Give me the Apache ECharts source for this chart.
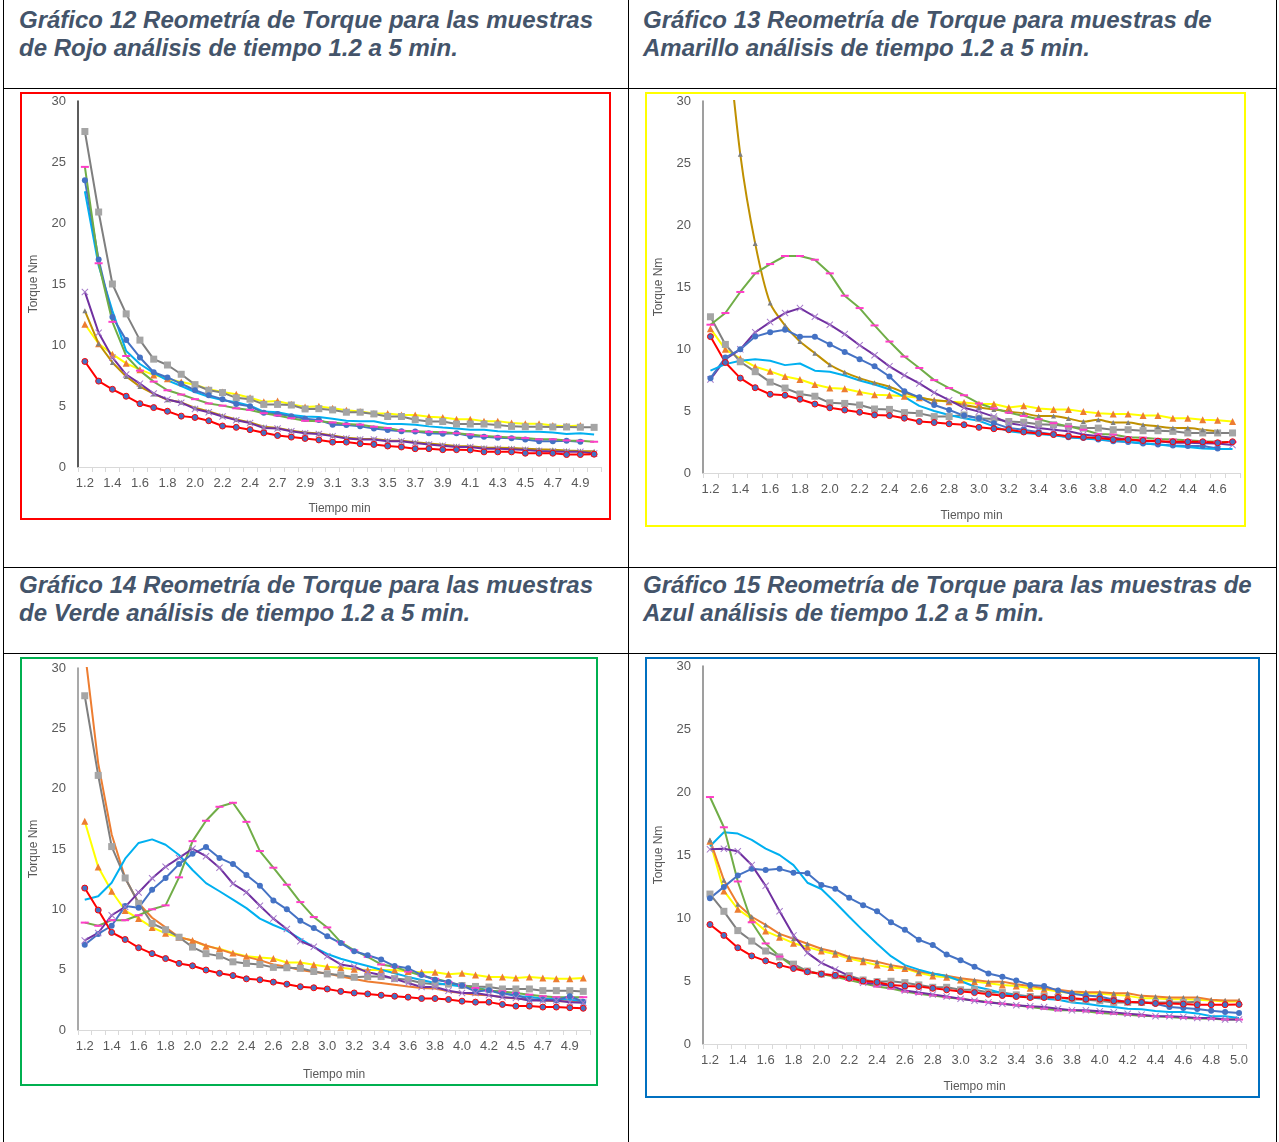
<!DOCTYPE html>
<html>
<head>
<meta charset="utf-8">
<script src="https://cdn.jsdelivr.net/npm/echarts@6/dist/echarts.min.js"></script>
<style>
  body { margin: 0; background: #fff; width: 1279px; height: 1142px; position: relative; overflow: hidden; font-family: "Liberation Sans", Arial, sans-serif; }
  .ln { position: absolute; background: #000; }
  .tit { position: absolute; font-weight: bold; font-style: italic; font-size: 24px; line-height: 28px; color: #44546A; white-space: nowrap; }
  .chart { position: absolute; }
  .marco { position: absolute; box-sizing: border-box; border: 2px solid; pointer-events: none; }
</style>
</head>
<body>
<div class="ln" style="left:3px;top:0;width:1px;height:1142px"></div>
<div class="ln" style="left:628px;top:0;width:1px;height:1142px"></div>
<div class="ln" style="left:1276px;top:0;width:1px;height:1142px"></div>
<div class="ln" style="left:3px;top:88px;width:1274px;height:1px"></div>
<div class="ln" style="left:3px;top:567px;width:1274px;height:1px"></div>
<div class="ln" style="left:3px;top:653px;width:1274px;height:1px"></div>

<div class="tit" style="left:19px;top:6px">Gráfico 12 Reometría de Torque para las muestras<br>de Rojo análisis de tiempo 1.2 a 5 min.</div>
<div class="tit" style="left:643px;top:6px">Gráfico 13 Reometría de Torque para muestras de<br>Amarillo análisis de tiempo 1.2 a 5 min.</div>
<div class="tit" style="left:19px;top:571px">Gráfico 14 Reometría de Torque para las muestras<br>de Verde análisis de tiempo 1.2 a 5 min.</div>
<div class="tit" style="left:643px;top:571px">Gráfico 15 Reometría de Torque para las muestras de<br>Azul análisis de tiempo 1.2 a 5 min.</div>

<div id="g12" class="chart" style="left:20px;top:92px;width:591px;height:428px"></div>
<div id="g13" class="chart" style="left:645px;top:92px;width:601px;height:435px"></div>
<div id="g14" class="chart" style="left:20px;top:657px;width:578px;height:429px"></div>
<div id="g15" class="chart" style="left:645px;top:657px;width:615px;height:441px"></div>
<div class="marco" style="left:20px;top:92px;width:591px;height:428px;border-color:#FF0000"></div>
<div class="marco" style="left:645px;top:92px;width:601px;height:435px;border-color:#FFFF00"></div>
<div class="marco" style="left:20px;top:657px;width:578px;height:429px;border-color:#00B050"></div>
<div class="marco" style="left:645px;top:657px;width:615px;height:441px;border-color:#0070C0"></div>

<script>
// categorías (tiempo min)
const tiempos12 = ['1.2','1.3','1.4','1.5','1.6','1.7','1.8','1.9','2.0','2.1','2.2','2.3','2.4','2.5','2.7','2.8','2.9','3.0','3.1','3.2','3.3','3.4','3.5','3.6','3.7','3.8','3.9','4.0','4.1','4.2','4.3','4.4','4.5','4.6','4.7','4.8','4.9','5.0'];
const tiempos13 = ['1.2','1.3','1.4','1.5','1.6','1.7','1.8','1.9','2.0','2.1','2.2','2.3','2.4','2.5','2.6','2.7','2.8','2.9','3.0','3.1','3.2','3.3','3.4','3.5','3.6','3.7','3.8','3.9','4.0','4.1','4.2','4.3','4.4','4.5','4.6','4.7'];
const tiempos14 = ['1.2','1.3','1.4','1.5','1.6','1.7','1.8','1.9','2.0','2.1','2.2','2.3','2.4','2.5','2.6','2.7','2.8','2.9','3.0','3.1','3.2','3.3','3.4','3.5','3.6','3.7','3.8','3.9','4.0','4.1','4.2','4.4','4.5','4.6','4.7','4.8','4.9','5.0'];
const tiempos15 = ['1.2','1.3','1.4','1.5','1.6','1.7','1.8','1.9','2.0','2.1','2.2','2.3','2.4','2.5','2.6','2.7','2.8','2.9','3.0','3.1','3.2','3.3','3.4','3.5','3.6','3.7','3.8','3.9','4.0','4.1','4.2','4.3','4.4','4.5','4.6','4.7','4.8','4.9','5.0'];
const marcasY = [0, 5, 10, 15, 20, 25, 30];

// Gráfico 12 - Rojo
const amarillo12 = [11.7,10.1,9.25,8.5,7.98,7.55,7.23,6.96,6.75,6.37,6.15,5.97,5.67,5.35,5.4,5.14,4.92,4.97,4.81,4.65,4.54,4.38,4.38,4.27,4.27,4.11,4.05,3.92,3.92,3.76,3.76,3.6,3.55,3.55,3.41,3.35,3.41,null];
const gris12 = [27.5,20.9,15.0,12.55,10.4,8.84,8.36,7.6,6.75,6.29,6.1,5.67,5.56,5.13,5.13,5.08,4.76,4.78,4.68,4.49,4.49,4.35,4.14,4.14,3.87,3.73,3.73,3.52,3.52,3.52,3.45,3.33,3.3,3.3,3.28,3.28,3.26,3.25];
const celeste12 = [22.6,16.5,12.8,9.5,8.44,7.72,7.1,6.64,6.15,5.75,5.48,5.3,5.03,4.54,4.49,4.27,4.14,4.1,3.95,3.79,3.75,3.75,3.52,3.52,3.47,3.33,3.23,3.15,3.06,3.06,2.93,2.88,2.88,2.88,2.82,2.71,2.76,2.66];
const azul12 = [23.5,17.0,12.3,10.4,8.98,7.77,7.34,6.83,6.29,5.89,5.56,5.16,4.97,4.44,4.35,4.17,3.95,3.85,3.47,3.45,3.33,3.15,3.04,2.93,2.9,2.77,2.72,2.77,2.53,2.48,2.39,2.35,2.26,2.12,2.12,2.15,2.07,null];
const verde12 = [24.6,16.7,11.9,9.1,7.9,7.0,6.29,5.94,5.56,5.21,5.03,4.81,4.68,4.41,4.22,4.0,3.79,3.76,3.65,3.52,3.47,3.3,3.2,2.98,2.93,2.88,2.85,2.77,2.66,2.55,2.48,2.42,2.37,2.27,2.27,2.18,2.15,2.07];
const oro12 = [12.8,10.1,8.57,7.42,6.59,5.99,5.51,5.3,4.85,4.55,4.2,3.9,3.65,3.3,3.2,2.98,2.82,2.75,2.58,2.4,2.32,2.3,2.18,2.15,2.02,1.92,1.82,1.72,1.7,1.6,1.58,1.55,1.5,1.45,1.42,1.35,1.32,1.3];
const morado12 = [14.35,11.0,8.98,7.58,6.83,6.02,5.54,5.27,4.76,4.49,4.14,3.84,3.6,3.2,3.15,2.93,2.77,2.71,2.53,2.34,2.26,2.26,2.12,2.12,1.96,1.85,1.75,1.64,1.64,1.5,1.5,1.46,1.4,1.32,1.28,1.24,1.24,1.1];
const rojo12 = [8.65,7.04,6.37,5.8,5.19,4.87,4.57,4.17,4.06,3.79,3.36,3.25,3.06,2.8,2.58,2.45,2.34,2.22,2.04,2.04,1.91,1.85,1.72,1.64,1.5,1.5,1.42,1.42,1.4,1.24,1.24,1.24,1.13,1.13,1.13,1.02,1.02,1.05];

// Gráfico 13 - Amarillo
const amarillo13 = [11.64,9.97,9.23,8.57,8.2,7.78,7.54,7.14,6.85,6.8,6.53,6.32,6.27,6.19,6.06,5.87,5.74,5.69,5.56,5.56,5.29,5.42,5.21,5.13,5.13,4.95,4.81,4.76,4.76,4.63,4.63,4.42,4.42,4.3,4.26,4.15];
const gris13 = [12.6,10.37,8.97,8.17,7.33,6.85,6.37,6.19,5.66,5.61,5.48,5.16,5.13,4.87,4.81,4.55,4.55,4.68,4.42,4.36,4.15,4.1,3.94,3.89,3.76,3.62,3.62,3.49,3.49,3.41,3.41,3.36,3.23,3.23,3.23,3.23];
const oro13 = [null,37,25.7,18.5,13.7,11.9,10.6,9.66,8.73,8.12,7.65,7.28,6.96,6.48,6.11,5.87,5.79,5.48,5.29,5.13,4.95,4.81,4.6,4.6,4.39,4.15,4.29,4.07,4.07,3.89,3.76,3.62,3.62,3.49,3.36,null];
const verde13 = [11.96,12.9,14.6,16.1,16.85,17.5,17.5,17.2,16.1,14.3,13.3,11.9,10.6,9.39,8.47,7.49,6.85,6.27,5.61,5.21,4.87,4.6,4.34,4.02,3.76,3.49,3.15,3.1,2.88,2.85,2.75,2.7,2.65,2.57,2.52,2.5];
const morado13 = [7.54,9.18,9.97,11.35,12.17,12.9,13.3,12.6,11.96,11.2,10.3,9.5,8.6,7.88,7.22,6.48,5.87,5.26,4.95,4.55,4.02,3.84,3.62,3.49,3.36,3.1,2.96,2.85,2.7,2.57,2.57,2.44,2.44,2.4,2.38,2.25];
const azul13 = [7.65,9.31,9.97,11.0,11.35,11.56,10.98,10.98,10.37,9.76,9.18,8.6,7.78,6.6,6.1,5.48,5.08,4.63,4.42,4.02,3.62,3.49,3.28,3.1,2.88,2.83,2.7,2.57,2.49,2.38,2.3,2.22,2.17,2.17,1.98,null];
const celeste13 = [8.25,8.78,9.05,9.18,9.05,8.7,8.83,8.25,8.17,7.86,7.46,7.14,6.75,6.14,5.41,5.0,4.68,4.42,4.21,3.76,3.36,3.23,3.15,3.05,2.88,2.78,2.7,2.62,2.52,2.38,2.3,2.17,2.09,1.98,1.93,1.93];
const rojo13 = [11.0,8.91,7.65,6.88,6.35,6.27,5.95,5.56,5.26,5.08,4.9,4.68,4.63,4.42,4.15,4.07,3.97,3.89,3.68,3.57,3.49,3.31,3.18,3.1,2.96,2.88,2.83,2.7,2.7,2.62,2.57,2.52,2.52,2.52,2.44,2.52];

// Gráfico 14 - Verde
const amarillo14 = [17.3,13.5,11.5,9.9,9.23,8.5,8.01,7.69,7.42,6.95,6.74,6.38,6.11,6.0,5.92,5.6,5.6,5.4,5.24,5.16,5.03,4.97,4.97,4.97,4.84,4.78,4.78,4.62,4.7,4.56,4.4,4.4,4.3,4.4,4.3,4.24,4.24,4.3];
const naranja14 = [31.5,22.1,16.2,12.6,10.5,9.3,8.5,7.69,7.42,7.0,6.68,6.33,6.06,5.79,5.43,5.24,4.97,4.8,4.7,4.43,4.23,4.02,3.89,3.75,3.61,3.48,3.43,3.2,3.07,2.93,2.88,2.71,2.6,2.53,2.44,2.39,2.39,2.34];
const gris14 = [27.7,21.1,15.2,12.6,10.5,8.83,8.31,7.69,6.87,6.33,6.14,5.65,5.52,5.43,5.19,5.16,5.11,4.85,4.65,4.56,4.37,4.43,4.43,4.26,4.16,3.89,3.8,3.8,3.69,3.61,3.56,3.4,3.4,3.4,3.26,3.26,3.26,3.2];
const celeste14 = [10.8,11.08,12.2,14.2,15.5,15.8,15.35,14.5,13.26,12.17,11.5,10.8,10.1,9.23,8.7,8.23,7.55,6.87,6.3,5.9,5.6,5.3,5.0,4.7,4.4,4.15,3.9,3.75,3.6,3.5,3.3,3.1,2.8,2.75,2.6,2.6,2.5,2.4];
const verde14 = [8.9,8.64,9.1,9.1,9.51,10.0,10.33,12.65,15.65,17.34,18.5,18.83,17.25,14.83,13.45,12.04,10.6,9.36,8.5,7.28,6.6,6.06,5.43,5.24,4.84,4.51,4.24,3.97,3.69,3.48,3.26,3.2,3.07,2.93,2.8,2.72,2.72,2.72];
const azul14 = [7.06,7.96,8.64,10.27,10.13,11.63,12.6,13.75,14.6,15.16,14.26,13.75,12.85,11.95,10.74,10.0,9.05,8.45,7.77,7.2,6.52,6.19,5.84,5.3,5.11,4.56,4.16,3.97,3.69,3.2,3.3,2.99,2.93,2.53,2.53,2.44,2.8,2.34];
const morado14 = [7.42,8.04,9.51,10.2,11.4,12.57,13.53,14.26,15.02,14.4,13.45,12.12,11.42,10.3,9.23,8.37,7.36,6.9,6.11,5.43,5.24,4.78,4.56,4.24,3.89,3.56,3.56,3.26,3.07,3.07,2.88,2.72,2.66,2.44,2.44,2.44,2.3,2.26];
const rojo14 = [11.76,9.94,8.09,7.5,6.82,6.33,5.92,5.52,5.32,4.97,4.7,4.51,4.24,4.16,3.97,3.8,3.59,3.5,3.4,3.2,3.07,2.99,2.88,2.8,2.72,2.61,2.61,2.53,2.39,2.31,2.31,2.12,1.98,1.98,1.9,1.9,1.85,1.8];

// Gráfico 15 - Azul
const amarillo15 = [16.1,12.15,10.7,9.92,8.96,8.48,8.0,7.7,7.38,7.12,6.78,6.52,6.26,6.07,5.99,5.66,5.4,5.29,5.08,4.95,4.82,4.69,4.61,4.42,4.35,4.16,4.03,4.03,3.98,3.9,3.82,3.64,3.64,3.56,3.56,3.51,3.46,3.38,3.38];
const naranja15 = [16.2,13.0,11.1,10.1,9.45,8.74,8.35,7.96,7.56,7.3,6.91,6.73,6.52,6.26,6.07,5.73,5.6,5.42,5.21,5.08,4.95,4.95,4.74,4.61,4.42,4.3,4.16,4.11,4.11,4.03,4.03,3.82,3.77,3.69,3.69,3.69,3.51,3.46,3.46];
const gris15 = [11.9,10.53,9.0,8.17,7.38,6.91,6.34,5.79,5.55,5.42,5.42,5.08,4.95,4.98,4.87,4.69,4.5,4.5,4.3,4.3,4.08,4.08,3.9,3.77,3.77,3.69,3.56,3.51,3.43,3.3,3.3,3.3,3.3,3.3,3.3,3.35,null,null,null];
const celeste15 = [15.7,16.8,16.7,16.2,15.5,15.0,14.2,12.8,12.3,11.23,10.1,9.0,7.96,6.97,6.26,5.9,5.6,5.4,5.0,4.56,4.32,4.03,3.85,3.69,3.59,3.51,3.3,3.2,3.04,2.93,2.8,2.75,2.62,2.54,2.54,2.43,2.2,2.2,2.07];
const azul15 = [11.57,12.47,13.38,13.9,13.8,13.9,13.59,13.55,12.62,12.33,11.6,11.02,10.53,9.66,9.06,8.27,7.85,7.1,6.65,6.13,5.6,5.34,5.03,4.69,4.61,4.24,3.98,3.85,3.77,3.51,3.33,3.33,3.2,2.93,2.85,2.77,2.64,2.54,2.46];
const verde15 = [19.6,17.2,12.9,9.66,7.98,6.94,6.13,5.73,5.55,5.34,5.08,4.82,4.56,4.4,4.16,3.98,3.85,3.7,3.6,3.46,3.33,3.2,3.07,2.93,2.8,2.67,2.67,2.59,2.46,2.4,2.33,2.25,2.2,2.15,2.07,2.02,2.0,1.94,1.94];
const morado15 = [15.45,15.5,15.3,14.2,12.55,10.53,8.62,7.23,6.44,5.92,5.4,4.87,4.77,4.61,4.24,4.08,3.92,3.77,3.59,3.43,3.3,3.2,3.07,3.0,2.93,2.8,2.67,2.67,2.59,2.51,2.4,2.33,2.2,2.2,2.15,2.07,2.07,1.94,1.94];
const rojo15 = [9.48,8.62,7.64,6.99,6.6,6.26,5.99,5.73,5.55,5.45,5.21,5.0,4.9,4.69,4.61,4.56,4.42,4.3,4.16,4.08,3.95,3.85,3.77,3.69,3.69,3.69,3.64,3.56,3.56,3.43,3.35,3.3,3.22,3.22,3.17,3.12,3.12,3.12,3.14];

// estilos de serie (como en Excel)
const equis = 'path://M0,1L1,0L5,4L9,0L10,1L6,5L10,9L9,10L5,6L1,10L0,9L4,5Z';
const estilos = {
  amarillo: { linea: '#FFFF00', simbolo: 'triangle', tam: 7, relleno: '#ED7D31' },
  gris:     { linea: '#7F7F7F', simbolo: 'rect', tam: 7, relleno: '#A5A5A5' },
  celeste:  { linea: '#00B0F0', simbolo: 'none' },
  azul:     { linea: '#4472C4', simbolo: 'circle', tam: 6, relleno: '#4472C4' },
  verde:    { linea: '#70AD47', simbolo: 'rect', tam: [8, 2], relleno: '#FF3DC8' },
  oro:      { linea: '#BF9000', simbolo: 'triangle', tam: 5, relleno: '#7F7F7F' },
  naranja:  { linea: '#ED7D31', simbolo: 'none' },
  naranja2: { linea: '#ED7D31', simbolo: 'triangle', tam: 5, relleno: '#7F7F7F' },
  morado:   { linea: '#7030A0', simbolo: equis, tam: 7, relleno: '#A67ACB' },
  rojo:     { linea: '#FF0000', simbolo: 'circle', tam: 6, relleno: '#4472C4', borde: '#FF0000' }
};

function serie(datos, k, suave) {
  const s = estilos[k];
  return {
    type: 'line',
    data: datos,
    smooth: suave || false,
    symbol: s.simbolo,
    symbolSize: s.tam,
    showSymbol: s.simbolo !== 'none',
    lineStyle: { color: s.linea, width: 2 },
    itemStyle: { color: s.relleno || s.linea, borderColor: s.borde || s.relleno || s.linea, borderWidth: s.borde ? 1 : 0 },
    emphasis: { disabled: true }
  };
}

function grafico(id, tiempos, series, grid, ejeY, fuente) {
  var dom = document.getElementById(id);
  var myChart = echarts.init(dom, null, { renderer: 'canvas' });
  var option = {
    animation: false,
    textStyle: { fontFamily: fuente },
    grid: grid,
    xAxis: {
      type: 'category',
      data: tiempos,
      boundaryGap: true,
      name: 'Tiempo min',
      nameLocation: 'middle',
      nameGap: grid.nameGapX,
      nameTextStyle: { color: '#595959', fontSize: 12, fontFamily: fuente },
      axisLine: { lineStyle: { color: '#D9D9D9', width: 1 } },
      axisTick: { show: true, interval: 0, length: 5, lineStyle: { color: '#D9D9D9' } },
      axisLabel: { interval: 1, color: '#595959', fontSize: 13, margin: 10, fontFamily: fuente },
      splitLine: { show: false }
    },
    yAxis: {
      type: 'value',
      min: marcasY[0],
      max: marcasY[marcasY.length - 1],
      interval: 5,
      name: 'Torque Nm',
      nameLocation: 'middle',
      nameGap: 38,
      nameRotate: 90,
      nameTextStyle: { color: '#595959', fontSize: 12, fontFamily: fuente },
      axisLine: { show: true, lineStyle: { color: ejeY, width: 1.5 } },
      axisTick: { show: false },
      axisLabel: { color: '#595959', fontSize: 13, margin: 12, fontFamily: fuente },
      splitLine: { show: false }
    },
    series: series
  };
  myChart.setOption(option);
}

const fuente = '"Liberation Sans", Arial, sans-serif';

grafico('g12', tiempos12, [
  serie(amarillo12, 'amarillo'), serie(gris12, 'gris'), serie(celeste12, 'celeste'),
  serie(azul12, 'azul'), serie(verde12, 'verde'), serie(oro12, 'oro'),
  serie(morado12, 'morado'), serie(rojo12, 'rojo')
], { left: 49, right: 10, top: 9, bottom: 47, nameGapX: 36 }, '#262626', fuente);

grafico('g13', tiempos13, [
  serie(amarillo13, 'amarillo'), serie(gris13, 'gris'), serie(oro13, 'oro', 0.25),
  serie(verde13, 'verde'), serie(morado13, 'morado'), serie(azul13, 'azul'),
  serie(celeste13, 'celeste'), serie(rojo13, 'rojo')
], { left: 55, right: 6, top: 9, bottom: 48, nameGapX: 37 }, '#7F7F7F', fuente);

grafico('g14', tiempos14, [
  serie(amarillo14, 'amarillo'), serie(naranja14, 'naranja'), serie(gris14, 'gris'),
  serie(celeste14, 'celeste'), serie(verde14, 'verde'), serie(azul14, 'azul'),
  serie(morado14, 'morado'), serie(rojo14, 'rojo')
], { left: 49, right: 8, top: 11, bottom: 50, nameGapX: 39 }, '#8C8C8C', fuente);

grafico('g15', tiempos15, [
  serie(amarillo15, 'amarillo'), serie(naranja15, 'naranja2'), serie(gris15, 'gris'),
  serie(celeste15, 'celeste'), serie(azul15, 'azul'), serie(verde15, 'verde'),
  serie(morado15, 'morado'), serie(rojo15, 'rojo')
], { left: 55, right: 14, top: 9, bottom: 50, nameGapX: 37 }, '#7F7F7F', fuente);
</script>
</body>
</html>
